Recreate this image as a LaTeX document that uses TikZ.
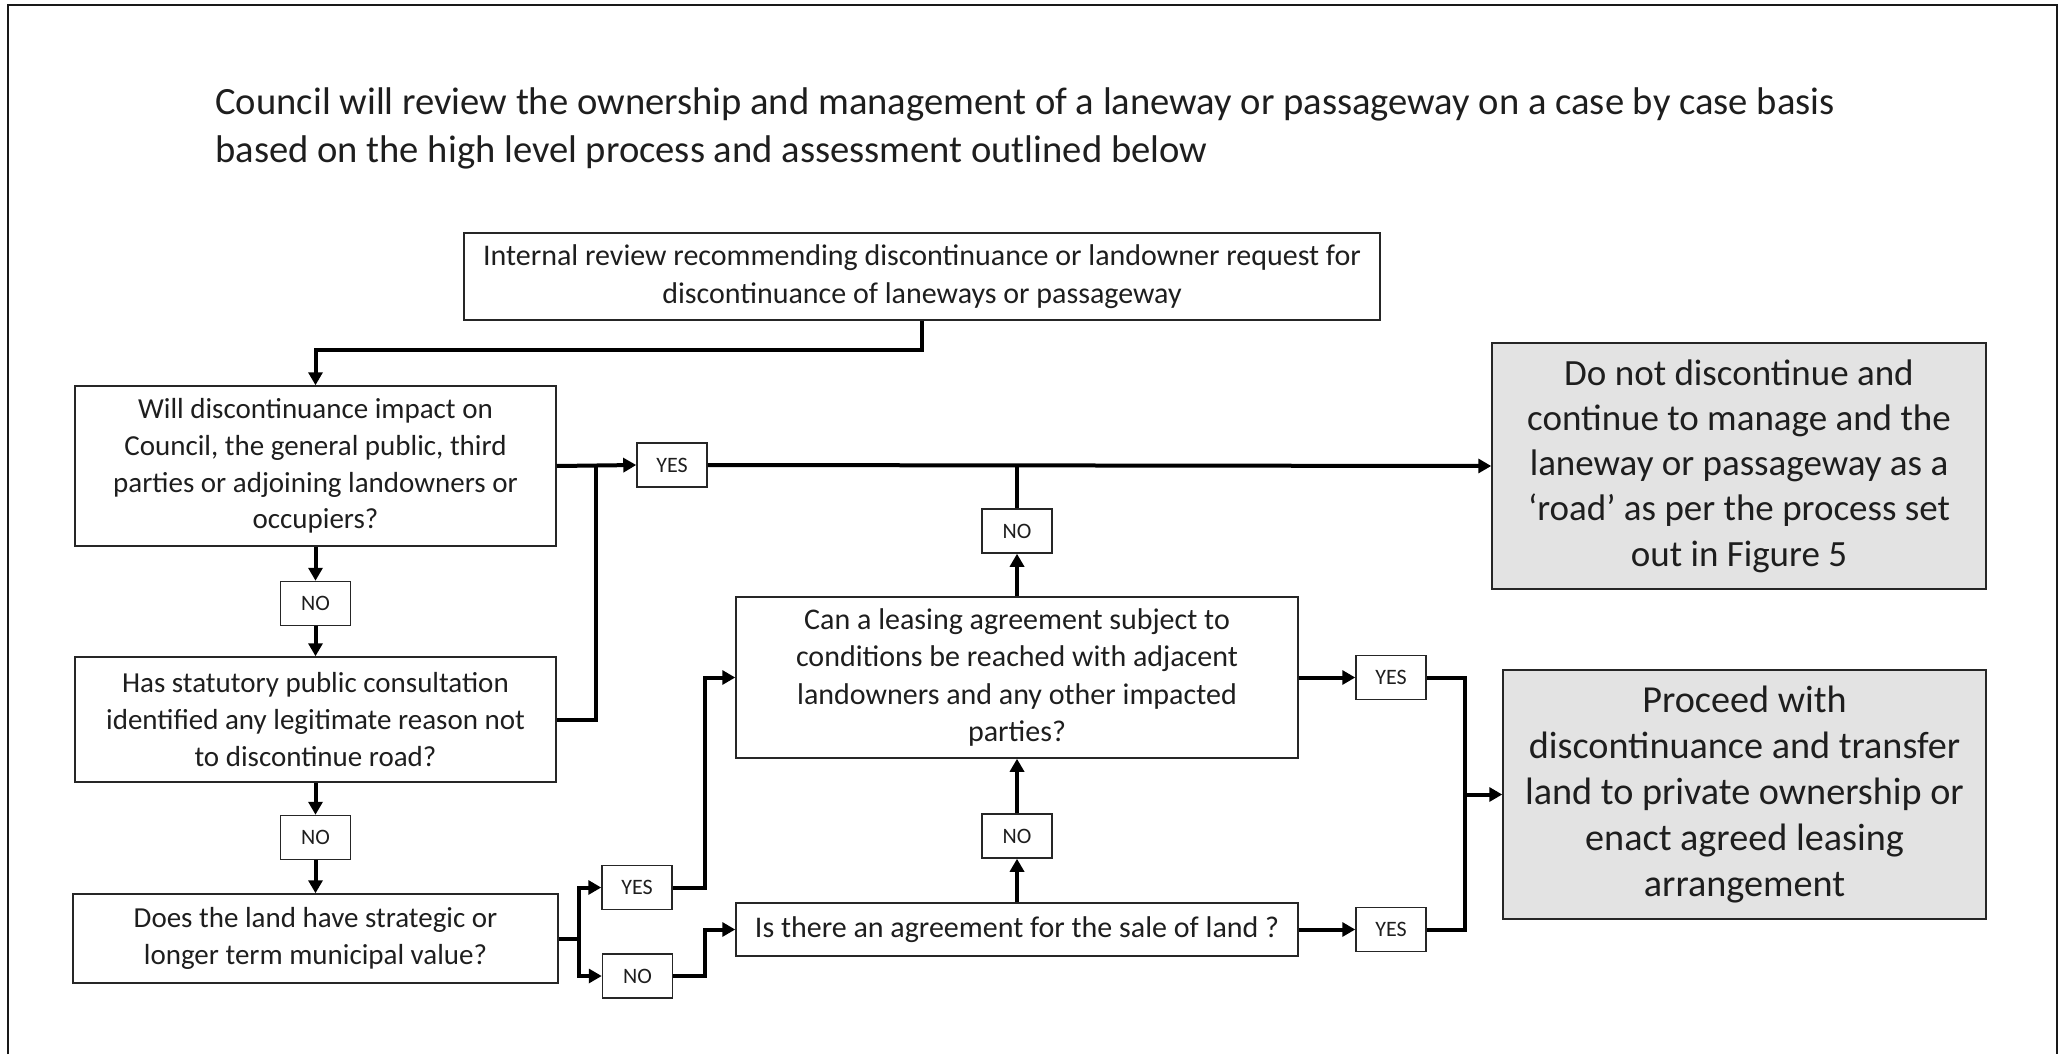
\documentclass[tikz,border=0pt]{standalone}
\usepackage{fontspec}
\setmainfont{Carlito}
\usetikzlibrary{arrows.meta}
\definecolor{boxgray}{RGB}{227,227,227}
\definecolor{txt}{RGB}{30,30,30}
\begin{document}
\begin{tikzpicture}[x=0.5pt,y=-0.5pt,
  box/.style={draw=black!85, line width=0.75pt, align=center, inner sep=0pt, text=txt,
    font=\fontsize{14.5}{18.4}\selectfont},
  boxb/.style={box, font=\fontsize{15}{18.8}\selectfont},
  bigbox/.style={box, fill=boxgray, font=\fontsize{18.5}{22.6}\selectfont},
  lab/.style={draw=black!85, line width=0.75pt, inner sep=0pt, text=txt,
    minimum width=35pt, minimum height=22pt, font=\fontsize{11}{13}\selectfont},
  conn/.style={line width=2pt, draw=black, -{Triangle[length=6.5pt,width=7pt]}},
  wire/.style={line width=2pt, draw=black}
]
\useasboundingbox (0,0) rectangle (2065,1054);
% frame
\draw[line width=1pt, black!90] (8,1054) -- (8,5) -- (2057,5) -- (2057,1054);

% title
\node[anchor=north west, align=left, inner sep=0pt, text=txt,
  font=\fontsize{19.3}{24.2}\selectfont] (title) at (215,87)
  {Council will review the ownership and management of a laneway or passageway on a case by case basis\\
   based on the high level process and assessment outlined below};

% boxes
\node[boxb, minimum width=458pt, minimum height=43.5pt] (top) at (922,276.5)
  {Internal review recommending discontinuance or landowner request for\\discontinuance of laneways or passageway};
\node[box, minimum width=240.5pt, minimum height=80pt] (q1) at (315.5,466)
  {Will discontinuance impact on\\Council, the general public, third\\parties or adjoining landowners or\\occupiers?};
\node[box, minimum width=240.5pt, minimum height=62.5pt] (q2) at (315.5,719.5)
  {Has statutory public consultation\\identified any legitimate reason not\\to discontinue road?};
\node[box, minimum width=242.5pt, minimum height=44.5pt] (q3) at (315.5,938.5)
  {Does the land have strategic or\\longer term municipal value?};
\node[boxb, minimum width=281pt, minimum height=80.5pt] (lease) at (1017,677.5)
  {Can a leasing agreement subject to\\conditions be reached with adjacent\\landowners and any other impacted\\parties?};
\node[boxb, minimum width=281pt, minimum height=26.5pt] (sale) at (1017,929.5)
  {Is there an agreement for the sale of land ?};
\node[bigbox, minimum width=247pt, minimum height=123pt] (donot) at (1739,466)
  {Do not discontinue and\\continue to manage and the\\laneway or passageway as a\\‘road’ as per the process set\\out in Figure 5};
\node[bigbox, font=\fontsize{19.1}{22.9}\selectfont, minimum width=241.5pt, minimum height=124.5pt] (proceed) at (1744.5,794.5)
  {Proceed with\\discontinuance and transfer\\land to private ownership or\\enact agreed leasing\\arrangement};

% labels
\node[lab] (no1) at (315.5,603.5) {NO};
\node[lab] (no2) at (315.5,837.5) {NO};
\node[lab] (yes1) at (672,465) {YES};
\node[lab] (yes2) at (637,887.5) {YES};
\node[lab] (no3) at (637.5,976) {NO};
\node[lab] (no4) at (1017,531) {NO};
\node[lab] (no5) at (1017,836) {NO};
\node[lab] (yes3) at (1391,677.5) {YES};
\node[lab] (yes4) at (1391,929.5) {YES};

% junction coordinates
\coordinate (t1) at (922,350);
\coordinate (t2) at (315.5,350);
\coordinate (j1) at (596,466);
\coordinate (j2) at (579,938.5);
\coordinate (k1) at (705,0);
\coordinate (k2) at (1465,794.5);

% connectors
\draw[conn] (top.south) -- (t1) -- (t2) -- (q1.north);
\draw[conn] (q1.east) -- (yes1.west);
\draw[wire] (q2.east) -| (j1);
\draw[conn] (yes1.east) -- (donot.west);
\draw[conn] (q1.south) -- (no1.north);
\draw[conn] (no1.south) -- (q2.north);
\draw[conn] (q2.south) -- (no2.north);
\draw[conn] (no2.south) -- (q3.north);
\draw[wire] (q3.east) -- (j2);
\draw[conn] (j2) |- (yes2.west);
\draw[conn] (j2) |- (no3.west);
\draw[conn] (yes2.east) -- (yes2.east -| k1) |- (lease.west);
\draw[conn] (no3.east) -- (no3.east -| k1) |- (sale.west);
\draw[conn] (sale.north) -- (no5.south);
\draw[conn] (no5.north) -- (lease.south);
\draw[conn] (lease.north) -- (no4.south);
\draw[wire] (no4.north) -- (no4.north |- yes1.east);
\draw[conn] (lease.east) -- (yes3.west);
\draw[conn] (sale.east) -- (yes4.west);
\draw[wire] (yes3.east) -| (k2);
\draw[wire] (yes4.east) -| (k2);
\draw[conn] (k2) -- (proceed.west);
\end{tikzpicture}
\end{document}
